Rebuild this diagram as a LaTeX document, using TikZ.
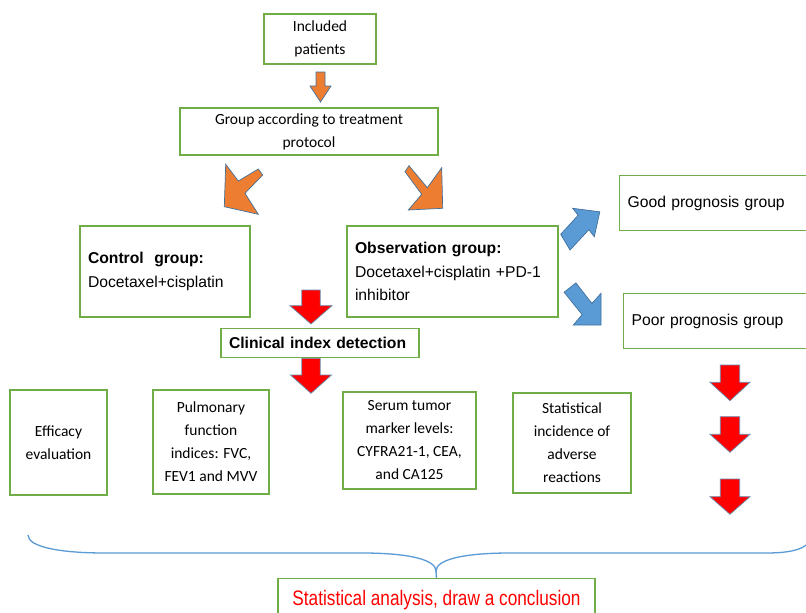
\documentclass[tikz,border=0pt]{standalone}
\usepackage{fontspec}
\setmainfont{Carlito}
\newfontfamily\arialf{Liberation Sans}
\newfontfamily\narrowf{Liberation Sans}[FakeStretch=0.82]
\usetikzlibrary{calc}
\definecolor{boxgreen}{RGB}{112,173,71}
\definecolor{arrorange}{RGB}{237,125,49}
\definecolor{arrblue}{RGB}{91,155,213}
\definecolor{arredge}{RGB}{65,113,156}
\definecolor{bracecol}{RGB}{91,155,213}
\newcommand\varrowshape[7]{\draw[#1] (#2-#5,#3) -- (#2+#5,#3) -- (#2+#5,#4) -- (#2+#6,#4) -- (#2,#7) -- (#2-#6,#4) -- (#2-#5,#4) -- cycle;}
\tikzset{
  box/.style={draw=boxgreen, line width=1.3pt, fill=white, inner sep=0pt},
  cal/.style={font=\fontsize{15.5}{23}\selectfont, align=center},
  ar/.style={font=\arialf\fontsize{15.7}{23.5}\selectfont, align=left, inner xsep=8pt, inner ysep=0pt},
  orangearr/.style={fill=arrorange, draw=arredge, line width=0.7pt, line join=miter},
  bluearr/.style={fill=arrblue, draw=arredge, line width=0.7pt, line join=miter},
  redarr/.style={fill=red, draw=arredge!80, line width=0.7pt, line join=miter},
  bracestyle/.style={draw=bracecol, line width=1.3pt}
}
\begin{document}
\begin{tikzpicture}[x=1pt, y=-1pt]
\useasboundingbox (0,0) rectangle (806,613);
\clip (0,0) rectangle (806,613);
\fill[white] (0,0) rectangle (806,613);

% top boxes
\node[box, cal, minimum width=112pt, minimum height=50pt] (inc) at (320,39) {Included\\patients};
\node[box, cal, minimum width=258pt, minimum height=47pt] (grp) at (309,131.5) {Group according to treatment\\protocol};

% group boxes
\node[box, ar, minimum height=91pt, text width=154pt] (ctl) at (165,271.5) {\textbf{Control\ \ group:}\\Docetaxel+cisplatin};
\node[box, ar, minimum height=91pt, text width=195pt] (obs) at (452.5,271.5) {\textbf{Observation group:}\\Docetaxel+cisplatin +PD-1\\inhibitor};

% prognosis boxes
\node[box, ar, anchor=north west, minimum height=55pt, text width=204pt] (good) at (619,175) {Good prognosis group};
\node[box, ar, anchor=north west, minimum height=55pt, text width=204pt] (poor) at (623,293) {Poor prognosis group};

% clinical
\node[box, ar, font=\arialf\bfseries\fontsize{15.7}{23.5}\selectfont, minimum height=29pt, text width=182pt] (clin) at (320,343) {Clinical index detection};

% bottom boxes
\node[box, cal, inner xsep=1pt, minimum width=97pt, minimum height=105pt] (eff) at (58.5,442.5) {Efficacy\\evaluation};
\node[box, cal, inner xsep=1pt, minimum width=116pt, minimum height=104pt] (pul) at (211,442) {Pulmonary\\function\\indices: FVC,\\FEV1 and MVV};
\node[box, cal, inner xsep=1pt, minimum width=133pt, minimum height=97pt] (ser) at (409.5,440.5) {Serum tumor\\marker levels:\\CYFRA21-1, CEA,\\and CA125};
\node[box, cal, inner xsep=1pt, minimum width=118pt, minimum height=100pt] (sta) at (572,443) {Statistical\\incidence of\\adverse\\reactions};

% conclusion
\node[box, font=\narrowf\fontsize{21}{24}\selectfont, text=red, minimum width=317pt, minimum height=42pt, anchor=north] (concl) at (436.5,578) {Statistical analysis, draw a conclusion};

% orange arrows
\varrowshape{orangearr}{320.5}{72}{86}{4.5}{10.5}{102}
\draw[orangearr] (225.7,164.3) -- (238.3,181) -- (258.3,169) -- (262.7,175) -- (245,193.3) -- (258.3,214.3) -- (224.3,206.7) -- cycle;
\draw[orangearr] (409,165.7) -- (427.3,187.7) -- (441.7,167.7) -- (442.7,208.3) -- (408.3,210) -- (421.7,194.3) -- (405,171.7) -- cycle;

% blue arrows
\draw[bluearr] (560.7,234.3) -- (578.1,215.3) -- (572.7,208.3) -- (599.8,211.8) -- (594.3,236.7) -- (588.9,229.7) -- (570,250) -- cycle;
\draw[bluearr] (575.9,282.9) -- (591.9,303.4) -- (601,293.3) -- (601,325) -- (573.3,325) -- (582.1,314.6) -- (564.1,292.2) -- cycle;

% red arrows
\varrowshape{redarr}{311}{290}{305.7}{9.2}{21}{324}
\varrowshape{redarr}{311}{358.3}{375}{9.2}{20.5}{393.3}
\varrowshape{redarr}{730}{365}{382.3}{9.7}{20}{400.7}
\varrowshape{redarr}{730}{416.7}{434.3}{9.7}{20}{452.3}
\varrowshape{redarr}{730}{479}{496.7}{9.7}{20}{514.3}

% brace
\coordinate (bL) at (28,535);
\coordinate (bR) at (812,539);
\coordinate (btip) at (436,571);
\draw[bracestyle] (bL) .. controls (28,547) and (60,553) .. (105,553) -- (362,553) .. controls (410,553) and (436,560) .. (btip) .. controls (436,560) and (462,553) .. (510,553) -- (766,553) .. controls (795,553) and (806,548) .. (bR);
\draw[bracestyle] (btip) -- (concl.north);
\end{tikzpicture}
\end{document}
